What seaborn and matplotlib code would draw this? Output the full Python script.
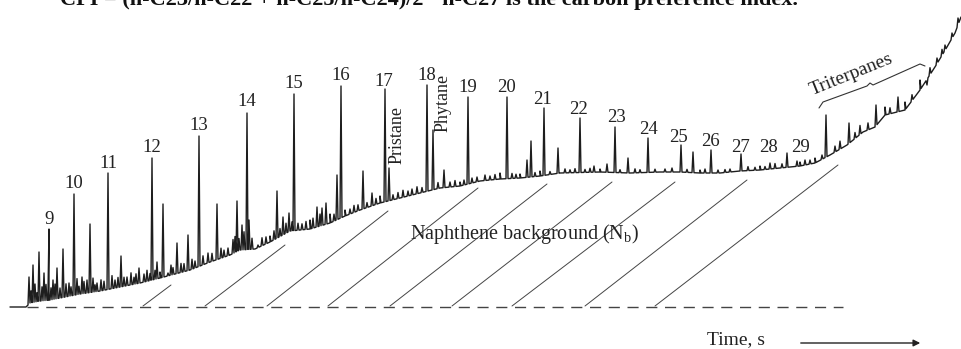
import numpy as np
import pandas as pd
import matplotlib
matplotlib.use("Agg")
import matplotlib.pyplot as plt
import seaborn as sns

# hump (unresolved background) of the trace: time vs. signal above the zero line
hump_t = [10, 26, 30, 40, 50, 65, 80, 100, 120, 140, 160, 175, 190, 210, 230, 240,
          255, 270, 290, 300, 310, 330, 345, 360, 380, 400, 420, 440, 460, 480, 500,
          520, 540, 560, 600, 630, 660, 680, 700, 720, 740, 760, 780, 800, 815, 830,
          847, 863, 875, 885, 897, 905, 920, 935, 947, 955, 961]
hump_s = [0, 0, 4, 6, 7, 10, 13, 16, 20, 24, 29, 33, 37, 45, 52, 57,
          58, 65, 76, 77, 78, 84, 91, 97, 104, 109, 114, 119, 121, 126, 128,
          129, 131, 134, 135, 134, 135, 135, 134, 134, 136, 137, 139, 141, 144, 152,
          162, 175, 180, 192, 195, 197, 217, 240, 260, 274, 290]

# n-alkanes
alkane_n = list(range(9, 30))
alkane_t = [49, 74, 108, 152, 199, 247, 294, 341, 385, 427, 468, 507, 544, 580,
            615, 648, 681, 711, 741, 770, 797]
alkane_s = [78, 113, 134, 149, 171, 194, 213, 221, 218, 222, 210, 210, 199, 189,
            180, 169, 162, 157, 153, 144, 146]
label_t = [49, 74, 108, 152, 199, 247, 294, 341, 384, 427, 468, 507, 543, 579,
           616, 648, 679, 710, 740, 769, 800]
label_s = [88, 124, 144, 159, 182, 205, 223, 231, 226, 232, 220, 219, 208, 198,
           190, 177, 170, 166, 160, 160, 160]

# isoprenoids
iso_names = ["Pristane", "Phytane"]
iso_t = [389, 433]
iso_s = [139, 177]
iso_label_t = [397, 443]
iso_label_s = [172, 204]

# other resolved peaks
minor_t = [29, 33, 39, 44, 53, 57, 63, 69, 82, 87, 90, 97, 121, 127, 139, 157, 163,
           168, 177, 188, 208, 217, 228, 237, 242, 249, 258, 277, 283, 289, 317, 322,
           326, 337, 363, 372, 444, 477, 485, 527, 531, 558, 594, 607, 628, 693, 787,
           822]
minor_s = [30, 42, 55, 34, 27, 39, 58, 24, 30, 27, 83, 24, 51, 30, 39, 45, 103,
           34, 64, 72, 54, 103, 59, 106, 82, 87, 62, 116, 90, 94, 100, 99,
           104, 132, 136, 114, 137, 130, 132, 147, 166, 159, 141, 143, 149, 155, 154,
           152]

# triterpanes
trit_t = [826, 849, 876, 898, 920, 927, 937, 945, 952, 958]
trit_s = [192, 184, 202, 210, 227, 222, 249, 262, 274, 289]

# small unresolved spikes (height above hump)
noise_t = [31, 35, 37, 42, 46, 48, 51, 55, 60, 66, 71, 77, 79, 84, 93, 95, 101, 104,
           112, 115, 118, 124, 131, 134, 136, 144, 147, 150, 155, 160, 171, 173, 181,
           184, 192, 195, 203, 212, 221, 224, 233, 235, 239, 244, 252, 262, 266, 270,
           274, 280, 286, 292, 298, 302, 306, 310, 313, 320, 330, 334, 345, 350, 354,
           358, 367, 376, 380, 393, 398, 403, 408, 412, 417, 422, 438, 450, 455, 460,
           464, 472, 490, 495, 500, 512, 516, 520, 535, 540, 550, 565, 570, 575, 585,
           590, 600, 620, 635, 640, 655, 665, 672, 687, 700, 705, 718, 725, 730, 748,
           755, 760, 765, 775, 782, 800, 805, 810, 815, 835, 840, 855, 860, 868, 885,
           890, 905, 912, 930, 942]
noise_h = [12, 18, 9, 14, 16, 8, 12, 15, 10, 13, 9, 16, 8, 12, 14, 7, 11, 9,
           13, 8, 10, 9, 12, 7, 10, 8, 11, 7, 9, 6, 10, 7, 9,
           8, 10, 7, 9, 8, 10, 7, 14, 16, 12, 18, 11, 8, 7, 6,
           9, 8, 10, 9, 7, 6, 8, 9, 10, 12, 9, 7, 6, 5, 7,
           6, 5, 6, 7, 5, 6, 7, 5, 6, 7, 5, 6, 5, 6, 4,
           5, 5, 4, 5, 6, 5, 4, 4, 4, 5, 3, 4, 3, 4, 3,
           4, 3, 3, 4, 3, 3, 3, 4, 3, 3, 4, 3, 3, 3, 4,
           3, 4, 3, 5, 4, 4, 5, 4, 5, 6, 8, 6, 9, 7, 8,
           6, 8, 6, 7, 6]

# naphthene background hatching: start on zero line, end under the hump
hatch_t0 = [143, 205, 267, 328, 390, 452, 512, 585, 655]
hatch_t1 = [171, 285, 388, 478, 547, 612, 675, 747, 838]
hatch_s1 = [22, 62, 96, 119, 123, 125, 125, 127, 142]


def hump(t):
    return np.interp(t, hump_t, hump_s)


# build the trace: hump plus narrow spikes
pts = list(zip(hump_t, hump_s))
w = 1.0
for t, s in zip(alkane_t + iso_t + minor_t + trit_t, alkane_s + iso_s + minor_s + trit_s):
    pts += [(t - w, hump(t - w)), (t, s), (t + w, hump(t + w))]
for t, h in zip(noise_t, noise_h):
    pts += [(t - w, hump(t - w)), (t, hump(t) + h), (t + w, hump(t + w))]
pts.sort(key=lambda p: p[0])
trace = pd.DataFrame(pts, columns=["time", "signal"])

sns.set_theme(style="white")
plt.rcParams["font.family"] = ["Liberation Serif", "DejaVu Serif"]

fig = plt.figure(figsize=(9.61, 3.49), dpi=100)
ax = fig.add_axes([0, 0, 1, 1])
ax.set_xlim(0, 961)
ax.set_ylim(-42, 307)
ax.axis("off")

sns.lineplot(data=trace, x="time", y="signal", sort=False, estimator=None,
             color="#1e1e1e", lw=1.0, ax=ax)

ax.plot([27, 843], [0, 0], color="#444444", lw=1.0, linestyle=(0, (8, 5.5)))
for t0, t1, s1 in zip(hatch_t0, hatch_t1, hatch_s1):
    ax.plot([t0, t1], [1, s1], color="#444444", lw=0.7)

fs = 13.5
for n, t, s in zip(alkane_n, label_t, label_s):
    ax.text(t, s, str(n), ha="center", va="center", fontsize=fs, color="#222222")
for name, t, s in zip(iso_names, iso_label_t, iso_label_s):
    ax.text(t, s, name, ha="center", va="center", rotation=90, fontsize=13,
            color="#222222")

ax.text(525, 73, "Naphthene background (N$_\\mathregular{b}$)", ha="center",
        va="center", fontsize=14.5, color="#222222")

# triterpane brace
brace_t = [819, 823, 867, 870, 873, 920, 925]
brace_s = [199, 205, 221, 224, 222, 243, 241]
ax.plot(brace_t, brace_s, color="#333333", lw=0.8)
ax.text(851, 232, "Triterpanes", ha="center", va="center", rotation=22,
        fontsize=14, color="#222222")

ax.text(736, -33, "Time, s", ha="center", va="center", fontsize=14, color="#222222")
ax.annotate("", xy=(923, -36), xytext=(798, -36),
            arrowprops=dict(arrowstyle="-|>", lw=1.0, color="#222222",
                            mutation_scale=10))

# clipped caption line above the figure
fig.text(60 / 961, 1 - 5 / 349,
         "CPI = (n-C23/n-C22 + n-C25/n-C24)/2 \u00b7 n-C27 is the carbon preference index.",
         ha="left", va="baseline", fontsize=16, fontweight="bold", color="#111111")

fig.savefig("out.png", dpi=100)
